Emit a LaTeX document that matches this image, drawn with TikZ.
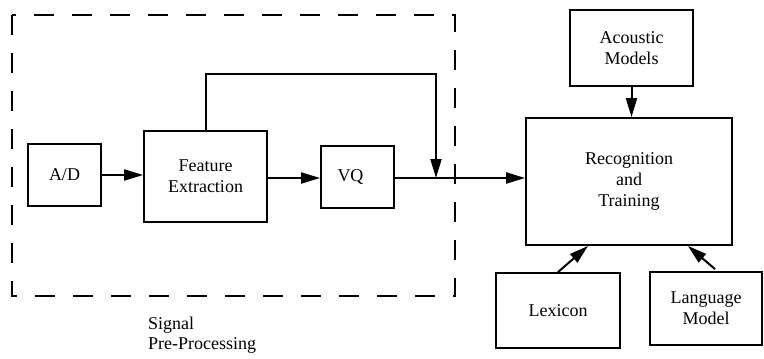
\documentclass[tikz,border=0pt]{standalone}
\usepackage{fontspec}
\setmainfont{Liberation Serif}
\usetikzlibrary{arrows.meta, positioning, calc}

\begin{document}
\begin{tikzpicture}[
  x=1pt, y=-1pt,
  blk/.style={draw, line width=1.8pt, font=\fontsize{18}{21}\selectfont, align=center, inner sep=0pt},
  arr/.style={-{Triangle[length=19pt, width=11pt]}, line width=2pt},
  prebox/.style={draw, line width=2pt, dash pattern=on 20pt off 18pt},
]
  \useasboundingbox (0,0) rectangle (764,359);

  % signal pre-processing block
  \draw[prebox] (12,15) rectangle (455,296);
  \node[anchor=north west, align=left, font=\fontsize{18}{20}\selectfont, inner sep=0pt] (sigtxt) at (148,317) {Signal\\Pre-Processing};

  \node[blk, minimum width=73pt, minimum height=62pt] (ad) at (64.5,175) {A/D};
  \node[blk, minimum width=123pt, minimum height=91pt] (fe) at (205.5,176.5) {Feature\\Extraction};
  \node[blk, minimum width=73pt, minimum height=62pt] (vq) at (357.5,177) {VQ\hspace{14pt}};

  % recognizer side
  \node[blk, minimum width=123pt, minimum height=76pt] (am) at (631.5,48) {Acoustic\\Models};
  \node[blk, minimum width=206pt, minimum height=127pt] (rec) at (629,181.5) {Recognition\\and\\Training};
  \node[blk, minimum width=124pt, minimum height=75pt] (lex) at (558,310.5) {Lexicon};
  \node[blk, minimum width=112pt, minimum height=73pt] (lm) at (706,308.5) {Language\\Model};

  \coordinate (join) at (436,178);

  \draw[arr] (ad) -- (fe.west |- ad);
  \draw[arr] (fe.east |- 0,178) -- (vq.west |- 0,178);
  \draw[arr] (vq.east |- join) -- (rec.west |- join);
  \draw[arr] (fe.north) -- ++(0,-56) -| (join);

  \draw[arr] (am) -- (am |- rec.north);
  \draw[arr] (lex.north) -- ($(rec.south)+(-41,0)$);
  \draw[arr] ($(lm.north)+(9,-2)$) -- ($(rec.south)+(59,0)$);
\end{tikzpicture}
\end{document}
